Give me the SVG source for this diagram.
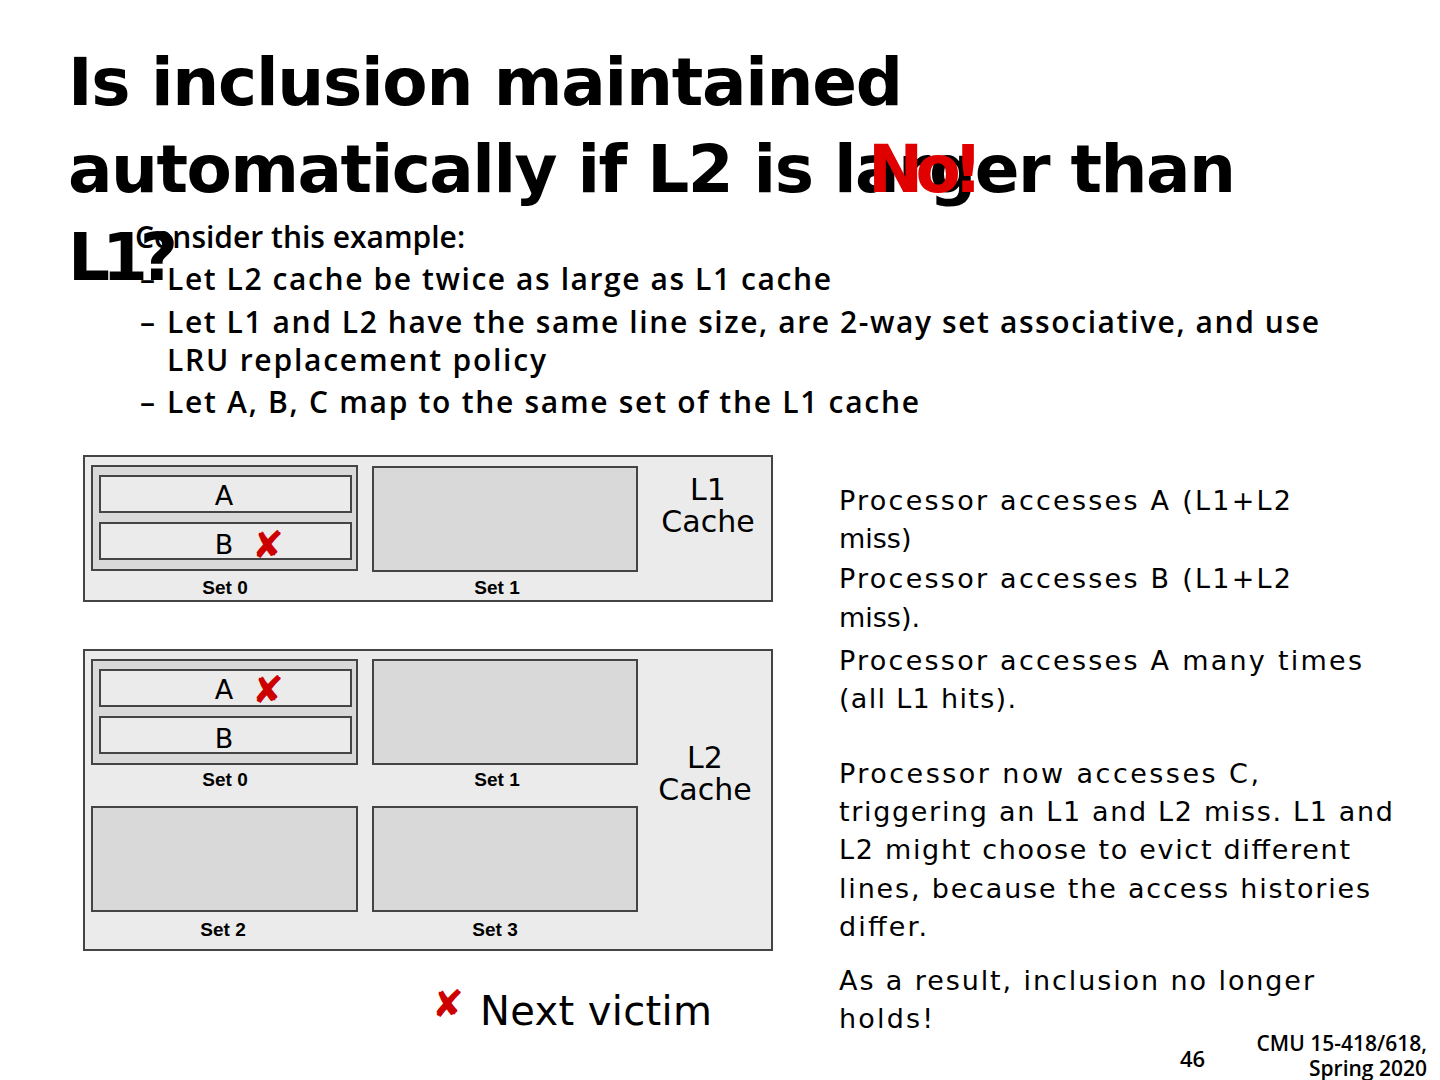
<svg xmlns="http://www.w3.org/2000/svg" width="1440" height="1080" viewBox="0 0 1440 1080">
<style>
.t{font-family:"DejaVu Sans",Verdana,sans-serif;font-weight:bold;font-size:66px;fill:#000}
.b{font-family:"Open Sans","Liberation Sans",sans-serif;font-weight:600;font-size:30px;fill:#000}
.r{font-family:"DejaVu Sans",Verdana,sans-serif;font-size:27px;fill:#000}
.s{font-family:"Liberation Sans",Arial,sans-serif;font-size:19px;font-weight:bold;fill:#000;text-anchor:middle}
.c{font-family:"DejaVu Sans",Verdana,sans-serif;font-size:30px;fill:#000;text-anchor:middle}
.outer{fill:#ebebeb;stroke:#444;stroke-width:2}
.set{fill:#d9d9d9;stroke:#444;stroke-width:2}
.line{fill:#ebebeb;stroke:#444;stroke-width:2}
.x{font-family:"DejaVu Sans",sans-serif;font-size:38px;fill:#cc0000;font-weight:bold}
</style>
<text class="t" x="68" y="105" textLength="835">Is inclusion maintained</text>
<text class="t" x="68" y="192" textLength="1168">automatically if L2 is larger than</text>
<text class="t" x="68" y="280" textLength="110">L1?</text>
<text class="t" x="868" y="192" style="fill:#e00000" textLength="115">No!</text>
<g id="bullets">
<text class="b" x="135" y="248">Consider this example:</text>
<text class="b" x="140" y="290">–</text><text class="b" x="167" y="290" textLength="664">Let L2 cache be twice as large as L1 cache</text>
<text class="b" x="140" y="333">–</text><text class="b" x="167" y="333" textLength="1152">Let L1 and L2 have the same line size, are 2-way set associative, and use</text>
<text class="b" x="167" y="371" textLength="379">LRU replacement policy</text>
<text class="b" x="140" y="413">–</text><text class="b" x="167" y="413" textLength="752">Let A, B, C map to the same set of the L1 cache</text>
</g>
<g id="l1">
<rect class="outer" x="84" y="456" width="688" height="145"/>
<rect class="set" x="92" y="466" width="265" height="104"/>
<rect class="line" x="100" y="476" width="251" height="36"/>
<rect class="line" x="100" y="523" width="251" height="36"/>
<text class="r" x="224" y="505" text-anchor="middle" font-size="24">A</text>
<text class="r" x="224" y="554" text-anchor="middle" font-size="24">B</text>
<text class="x" x="252" y="558">✘</text>
<rect class="set" x="373" y="467" width="264" height="104"/>
<text class="s" x="225" y="594">Set 0</text>
<text class="s" x="497" y="594">Set 1</text>
<text class="c" x="708" y="500">L1</text>
<text class="c" x="708" y="532">Cache</text>
</g>
<g id="l2">
<rect class="outer" x="84" y="650" width="688" height="300"/>
<rect class="set" x="92" y="660" width="265" height="104"/>
<rect class="line" x="100" y="670" width="251" height="36"/>
<rect class="line" x="100" y="717" width="251" height="36"/>
<text class="r" x="224" y="699" text-anchor="middle" font-size="24">A</text>
<text class="r" x="224" y="748" text-anchor="middle" font-size="24">B</text>
<text class="x" x="252" y="703">✘</text>
<rect class="set" x="373" y="660" width="264" height="104"/>
<rect class="set" x="92" y="807" width="265" height="104"/>
<rect class="set" x="373" y="807" width="264" height="104"/>
<text class="s" x="225" y="786">Set 0</text>
<text class="s" x="497" y="786">Set 1</text>
<text class="s" x="223" y="936">Set 2</text>
<text class="s" x="495" y="936">Set 3</text>
<text class="c" x="705" y="768">L2</text>
<text class="c" x="705" y="800">Cache</text>
</g>
<g id="legend">
<text class="x" x="432" y="1017">✘</text>
<text class="r" x="480" y="1025" style="font-size:40px" textLength="232">Next victim</text>
</g>
<g id="notes">
<text class="r" x="839" y="510" textLength="452">Processor accesses A (L1+L2</text>
<text class="r" x="839" y="548">miss)</text>
<text class="r" x="839" y="588" textLength="452">Processor accesses B (L1+L2</text>
<text class="r" x="839" y="627">miss).</text>
<text class="r" x="839" y="670" textLength="523">Processor accesses A many times</text>
<text class="r" x="839" y="708" textLength="177">(all L1 hits).</text>
<text class="r" x="839" y="783" textLength="420">Processor now accesses C,</text>
<text class="r" x="839" y="821" textLength="554">triggering an L1 and L2 miss. L1 and</text>
<text class="r" x="839" y="859" textLength="511">L2 might choose to evict different</text>
<text class="r" x="839" y="898" textLength="531">lines, because the access histories</text>
<text class="r" x="839" y="936" textLength="88">differ.</text>
<text class="r" x="839" y="990" textLength="475">As a result, inclusion no longer</text>
<text class="r" x="839" y="1028" textLength="94">holds!</text>
</g>
<g id="footer">
<text class="b" x="1180" y="1067" style="font-size:22px">46</text>
<text class="b" x="1427" y="1051" text-anchor="end" style="font-size:21px">CMU 15-418/618,</text>
<text class="b" x="1427" y="1076" text-anchor="end" style="font-size:21px">Spring 2020</text>
</g>
</svg>
